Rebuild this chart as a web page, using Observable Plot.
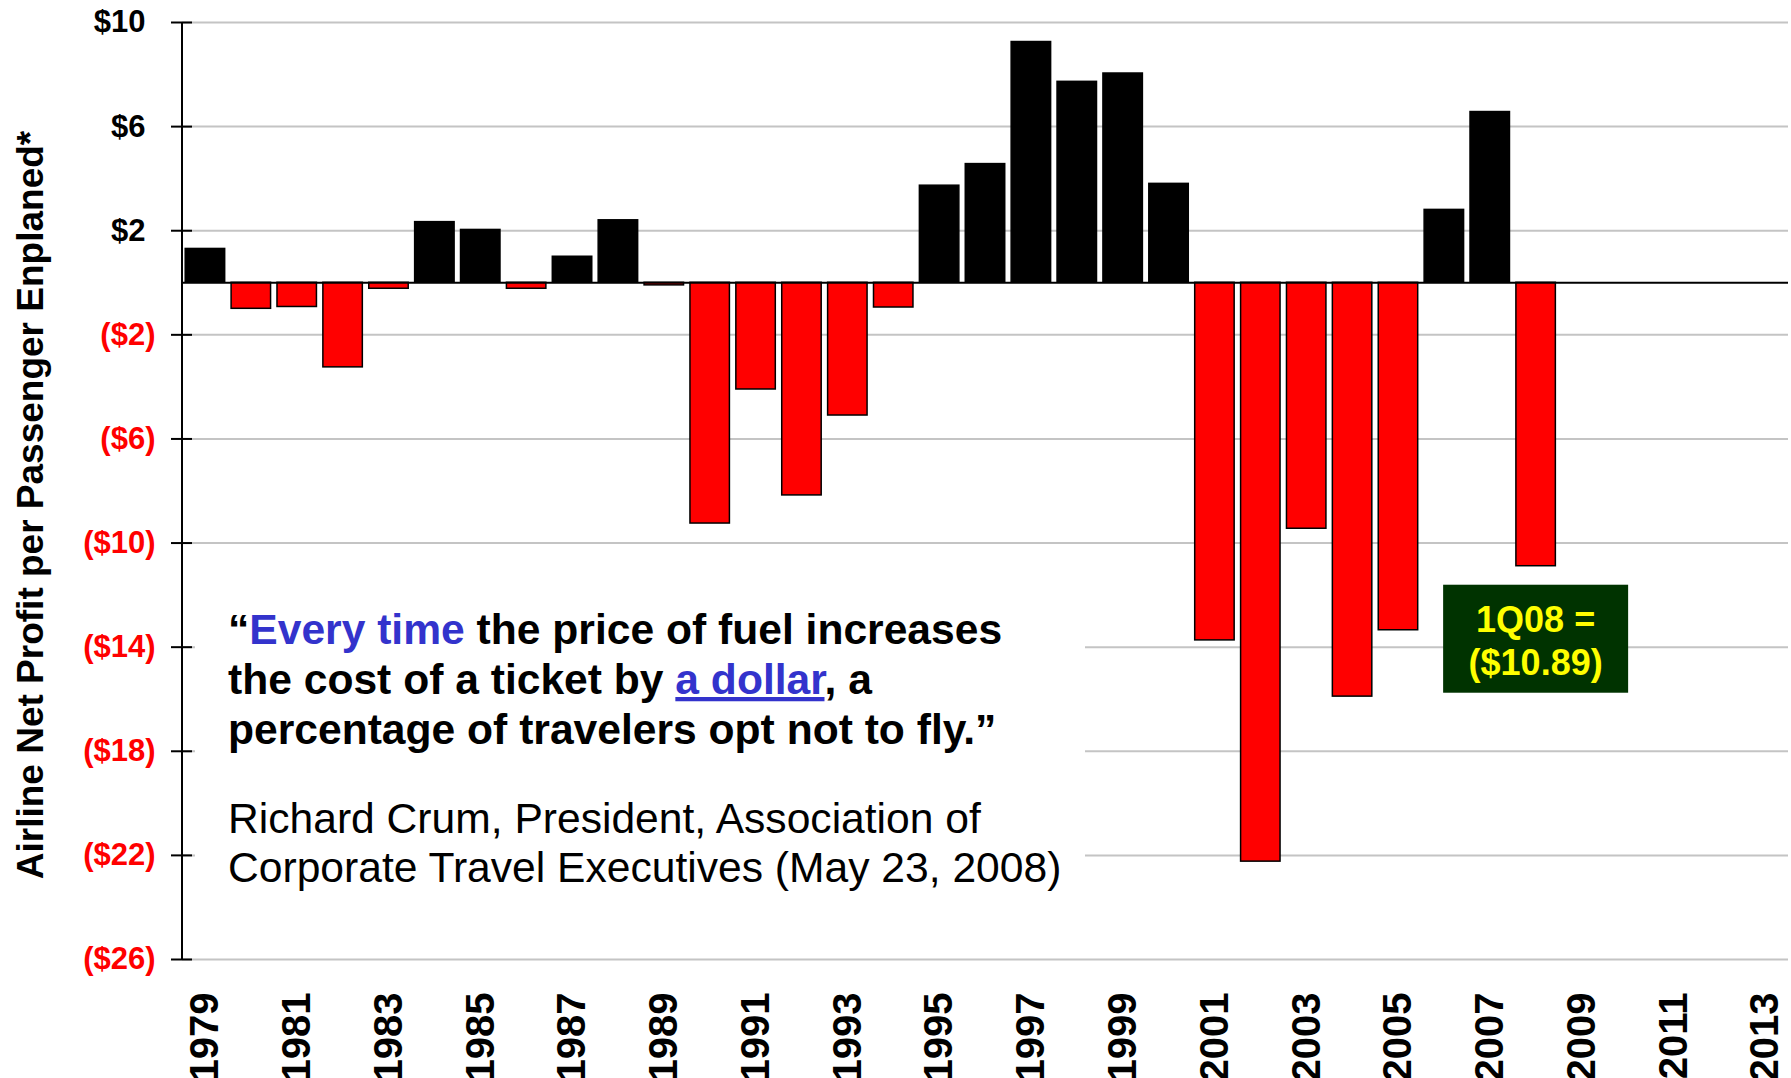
<!DOCTYPE html>
<html>
<head>
<meta charset="utf-8">
<script src="https://cdn.jsdelivr.net/npm/d3@7"></script>
<script src="https://cdn.jsdelivr.net/npm/@observablehq/plot@0.6"></script>
<style>
  html, body { margin: 0; padding: 0; background: #fff; }
  svg { display: block; }
</style>
</head>
<body>
<div id="chart"></div>
<script>
// Years on the category axis (the axis runs out to 2013, data ends at 2008)
const years = [
  "1979","1980","1981","1982","1983","1984","1985","1986","1987","1988",
  "1989","1990","1991","1992","1993","1994","1995","1996","1997","1998",
  "1999","2000","2001","2002","2003","2004","2005","2006","2007","2008",
  "2009","2010","2011","2012","2013"
];

// Airline net profit per passenger enplaned, US$ (2008 = 1Q08)
const profit = [
   1.30, -1.00, -0.93, -3.25, -0.23,  2.33,  2.03, -0.23,  1.00,  2.40,
  -0.10, -9.25, -4.10, -8.17, -5.10, -0.95,  3.73,  4.56,  9.25,  7.72,
   8.04,  3.80, -13.74, -22.24, -9.45, -15.90, -13.35, 2.80,  6.56, -10.89
];

const yTicks = [10, 6, 2, -2, -6, -10, -14, -18, -22, -26];
const xTickYears = [
  "1979","1981","1983","1985","1987","1989","1991","1993","1995",
  "1997","1999","2001","2003","2005","2007","2009","2011","2013"
];

const yTitle = "Airline Net Profit per Passenger Enplaned*";
const calloutPeriod = "1Q08";
const calloutYear = "2008";

// Quote lines, split into styled runs
const quoteLines = [
  [{t: "\u201C"}, {t: "Every time", blue: true}, {t: " the price of fuel increases"}],
  [{t: "the cost of a ticket by "}, {t: "a dollar", blue: true, underline: true}, {t: ", a"}],
  [{t: "percentage of travelers opt not to fly.\u201D"}]
];
const attribution = [
  "Richard Crum, President, Association of",
  "Corporate Travel Executives (May 23, 2008)"
];

const rows = profit.map((value, i) => ({year: years[i], value}));

const FONT = "'Liberation Sans', Arial, Helvetica, sans-serif";
const RED = "#ff0000";
const BLUE = "#3333cc";

const plot = Plot.plot({
  width: 1791,
  height: 1078,
  marginLeft: 182,
  marginRight: 3,
  marginTop: 22,
  marginBottom: 119,
  style: {fontFamily: FONT, background: "#fff", overflow: "visible"},
  x: {type: "band", domain: years, paddingInner: 0.14, paddingOuter: 0.07, axis: null, label: null},
  y: {domain: [-26, 10], axis: null, label: null},
  marks: [
    Plot.ruleY(yTicks, {stroke: "#c4c4c4", strokeWidth: 2}),
    Plot.barY(rows.filter(d => d.value >= 0), {x: "year", y: "value", fill: "#000", stroke: "#000", strokeWidth: 1.5}),
    Plot.barY(rows.filter(d => d.value < 0), {x: "year", y: "value", fill: RED, stroke: "#000", strokeWidth: 1.5}),
    Plot.ruleY([0], {stroke: "#000", strokeWidth: 2}),
    // tick marks crossing the value axis
    Plot.axisY(yTicks, {anchor: "left", label: null, tickSize: 21, dx: 10, tickFormat: () => "", stroke: "#000", strokeWidth: 2}),
    // tick labels in accounting style: profits in black (room kept for the
    // closing parenthesis), losses in red parentheses
    Plot.axisY(yTicks.filter(v => v > 0), {
      anchor: "left", label: null, tickSize: 0, tickPadding: 37,
      tickFormat: v => `$${v}`, fill: "#000", fontSize: 31, fontWeight: "bold"
    }),
    Plot.axisY(yTicks.filter(v => v < 0), {
      anchor: "left", label: null, tickSize: 0, tickPadding: 27,
      tickFormat: v => `($${-v})`, fill: RED, fontSize: 31, fontWeight: "bold"
    }),
    Plot.axisX(xTickYears, {
      anchor: "bottom", label: null, tickSize: 0, tickPadding: 33, tickRotate: -90,
      fill: "#000", fontSize: 40, fontWeight: "bold"
    }),
    Plot.text([yTitle], {
      text: d => d, frameAnchor: "left", textAnchor: "middle", rotate: -90, dx: -151, dy: 14,
      fontSize: 37, fontWeight: "bold", fill: "#000"
    })
  ]
});

document.getElementById("chart").appendChild(plot);

const svg = d3.select(plot);
const xs = plot.scale("x");
const ys = plot.scale("y");

// vertical value axis line
svg.append("line")
  .attr("x1", xs.range[0]).attr("x2", xs.range[0])
  .attr("y1", ys.apply(yTicks[0])).attr("y2", ys.apply(yTicks[yTicks.length - 1]))
  .attr("stroke", "#000").attr("stroke-width", 2);

// quote block on a white panel
const q = svg.append("g").attr("font-family", FONT).attr("text-anchor", "start");
q.append("rect")
  .attr("x", 195).attr("y", 592).attr("width", 890).attr("height", 313)
  .attr("fill", "#fff");

quoteLines.forEach((runs, i) => {
  const t = q.append("text")
    .attr("x", 228).attr("y", 644 + i * 50)
    .attr("text-anchor", "start")
    .attr("font-size", 42.6).attr("font-weight", "bold").attr("fill", "#000");
  runs.forEach(r => {
    const s = t.append("tspan").text(r.t);
    if (r.blue) s.attr("fill", BLUE);
    if (r.underline) s.attr("text-decoration", "underline");
  });
});

attribution.forEach((line, i) => {
  q.append("text")
    .attr("x", 228).attr("y", 833 + i * 49)
    .attr("text-anchor", "start")
    .attr("font-size", 42.6).attr("fill", "#000")
    .text(line);
});

// callout for the latest quarter
const calloutValue = profit[years.indexOf(calloutYear)];
const cx = xs.apply(calloutYear) + xs.bandwidth / 2;
const cy = ys.apply(calloutValue) + 19;
const c = svg.append("g").attr("font-family", FONT);
c.append("rect")
  .attr("x", cx - 92.5).attr("y", cy).attr("width", 185).attr("height", 108)
  .attr("fill", "#003300");
[`${calloutPeriod} =`, `($${Math.abs(calloutValue).toFixed(2)})`].forEach((s, i) => {
  c.append("text")
    .attr("x", cx).attr("y", cy + 47 + i * 43)
    .attr("text-anchor", "middle")
    .attr("font-size", 36).attr("font-weight", "bold").attr("fill", "#ffff00")
    .text(s);
});
</script>
</body>
</html>
